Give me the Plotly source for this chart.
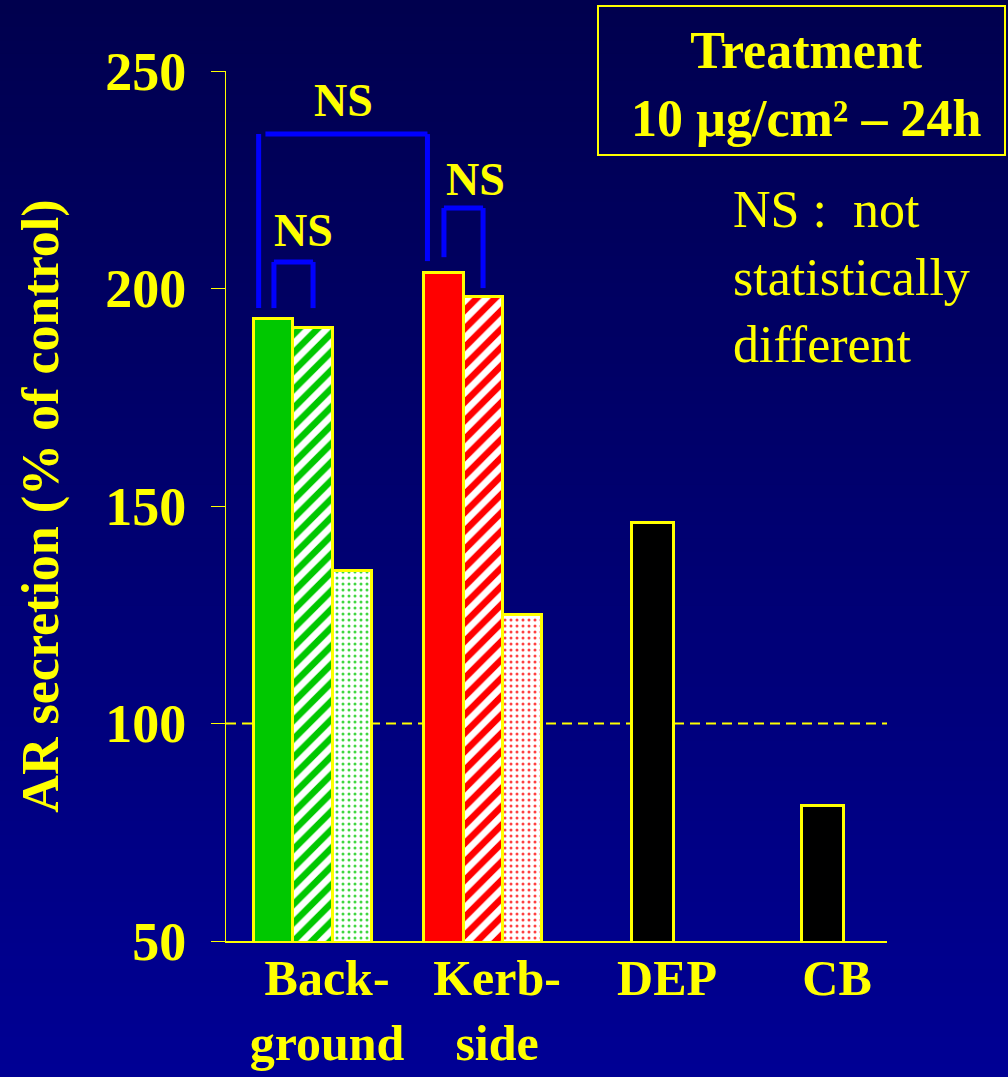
import plotly.graph_objects as go

# ---------------- data ----------------
categories = ["Back-<br>ground", "Kerb-<br>side", "DEP", "CB"]
particle_cats = ["Back-<br>ground", "Kerb-<br>side"]
solid_values = [193, 203.5]
hatched_values = [191, 198]
dotted_values = [135, 125]
ref_cats = ["DEP", "CB"]
ref_values = [146, 81]
group_colors = ["#00C800", "#FF0000"]
control_level = 100
y_tick_vals = [50, 100, 150, 200, 250]

# ---------------- styling ----------------
YEL = "#FFFF00"
BLUE = "#0000FF"
FONT = "Liberation Serif"
W, H = 1008, 1077
L, R, T, B = 226, 121, 71, 136
PW, PH = W - L - R, H - T - B
BW = 0.23


def px_x(px):
    return (px - L) / PW


def px_y(py):
    return (H - B - py) / PH


fig = go.Figure()

line_style = dict(color=YEL, width=3)
fig.add_bar(x=particle_cats, y=solid_values, offset=-1.5 * BW, width=BW,
            marker=dict(color=group_colors, line=line_style), showlegend=False)
fig.add_bar(x=particle_cats, y=hatched_values, offset=-0.5 * BW, width=BW,
            marker=dict(color="white", line=line_style,
                        pattern=dict(shape="/", fgcolor=group_colors, bgcolor="white",
                                     fgopacity=1, size=13, solidity=0.5)), showlegend=False)
fig.add_bar(x=particle_cats, y=dotted_values, offset=0.5 * BW, width=BW,
            marker=dict(color="white", line=line_style,
                        pattern=dict(shape=".", fgcolor=group_colors, bgcolor="white",
                                     fgopacity=0.75, size=6, solidity=0.2)), showlegend=False)
fig.add_bar(x=ref_cats, y=ref_values, offset=-0.1225, width=0.245,
            marker=dict(color="black", line=line_style), showlegend=False)

shapes = []
# background gradient
n = 80
top_c, bot_c = 0x4E, 0x94
for i in range(n):
    y0 = 1 + T / PH - (i) * (H / PH) / n
    y1 = 1 + T / PH - (i + 1) * (H / PH) / n
    c = int(round(top_c + (bot_c - top_c) * (i + 0.5) / n))
    shapes.append(dict(type="rect", xref="paper", yref="paper", x0=-L / PW - 0.01, x1=1 + R / PW + 0.01,
                       y0=y1 - 0.002, y1=y0, line=dict(width=0), fillcolor=f"rgb(0,0,{c})", layer="below"))

# control dashed line
shapes.append(dict(type="line", xref="paper", yref="y", x0=0, x1=1, y0=control_level, y1=control_level,
                   line=dict(color=YEL, width=2, dash="10px,6px"), layer="below"))

# NS brackets
bg_solid_c = 0 - BW
bg_hatch_c = 0
kb_solid_c = 1 - BW
kb_hatch_c = 1
bg_left_edge = 0 - 1.5 * BW
kb_left_edge = 1 - 1.5 * BW
brackets = [
    (bg_left_edge + 0.025, kb_left_edge + 0.018, 235.5, 195.5, 206.3, 0.04),
    (bg_solid_c, bg_hatch_c, 206.1, 195.5, 195.5, 0.0),
    (kb_solid_c, kb_hatch_c, 218.5, 207.2, 200.1, 0.0),
]
bl = dict(color=BLUE, width=5)
for xl, xr, yt, ybl, ybr, gap in brackets:
    shapes.append(dict(type="line", xref="x", yref="y", x0=xl, x1=xl, y0=ybl, y1=yt, line=bl))
    shapes.append(dict(type="line", xref="x", yref="y", x0=xl + gap, x1=xr, y0=yt, y1=yt, line=bl))
    shapes.append(dict(type="line", xref="x", yref="y", x0=xr, x1=xr, y0=yt, y1=ybr, line=bl))

# treatment box
shapes.append(dict(type="rect", xref="paper", yref="paper", x0=px_x(598), x1=px_x(1005),
                   y0=px_y(155), y1=px_y(6), line=dict(color=YEL, width=2)))

annotations = []
ns_shift = [0.0, 0.06, 0.07]
ns_lift = [34, 31, 29]
for (xl, xr, yt, ybl, ybr, gap), dx, dy in zip(brackets, ns_shift, ns_lift):
    annotations.append(dict(x=(xl + xr) / 2 + dx, y=yt, xref="x", yref="y", text="<b>NS</b>",
                            showarrow=False, yshift=dy, yanchor="middle",
                            font=dict(family=FONT, size=46, color=YEL)))

annotations.append(dict(x=px_x(806), y=px_y(84), xref="paper", yref="paper",
                        text="<b>Treatment<br>10 µg/cm² – 24h</b>", showarrow=False,
                        xanchor="center", yanchor="middle", align="center",
                        font=dict(family=FONT, size=52, color=YEL)))
annotations.append(dict(x=px_x(731), y=px_y(179), xref="paper", yref="paper",
                        text="NS :\u00a0\u00a0not<br>statistically<br>different", showarrow=False,
                        xanchor="left", yanchor="top", align="left",
                        font=dict(family=FONT, size=52, color=YEL)))

fig.update_layout(
    width=W, height=H,
    margin=dict(l=L, r=R, t=T, b=B, pad=0),
    paper_bgcolor="#000070", plot_bgcolor="rgba(0,0,0,0)",
    barmode="overlay", bargap=0,
    shapes=shapes, annotations=annotations,
    xaxis=dict(type="category", categoryorder="array", categoryarray=categories,
               range=[-0.512, 3.376], showline=True, linecolor=YEL, linewidth=2,
               ticks="", showgrid=False, zeroline=False, automargin=False,
               tickfont=dict(family=FONT, size=50, color=YEL, weight="bold"),
               ticklabelshift=14, ticklabelstandoff=-8),
    yaxis=dict(range=[50, 250], tickvals=y_tick_vals, showline=True, linecolor=YEL, linewidth=1,
               ticks="outside", ticklen=14, tickcolor=YEL, tickwidth=1,
               showgrid=False, zeroline=False, automargin=False,
               tickfont=dict(family=FONT, size=54, color=YEL, weight="bold"),
               ticklabelstandoff=14,
               title=dict(text="AR secretion (% of control)", standoff=30,
                          font=dict(family=FONT, size=52, color=YEL, weight="bold"))),
)

fig.write_html("out.html", config={"displayModeBar": False},
               post_script="document.body.style.margin='0';document.body.style.padding='0';"
                           "document.body.style.background='#000050';document.body.style.overflow='hidden';")
